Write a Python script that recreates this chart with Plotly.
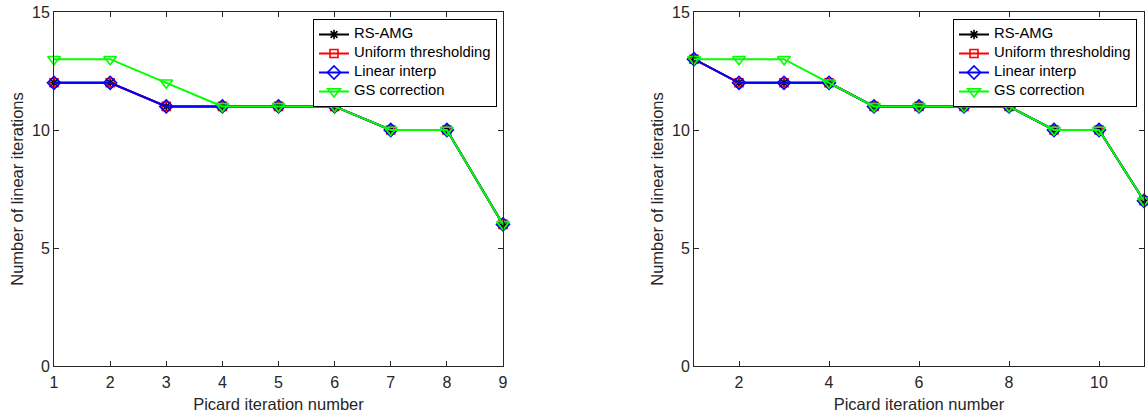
import plotly.graph_objects as go

# ---------------- data ----------------
series_names = ["RS-AMG", "Uniform thresholding", "Linear interp", "GS correction"]

left_x = [1, 2, 3, 4, 5, 6, 7, 8, 9]
left_rs_amg = [12, 12, 11, 11, 11, 11, 10, 10, 6]
left_uniform = [12, 12, 11, 11, 11, 11, 10, 10, 6]
left_linear = [12, 12, 11, 11, 11, 11, 10, 10, 6]
left_gs = [13, 13, 12, 11, 11, 11, 10, 10, 6]

right_x = [1, 2, 3, 4, 5, 6, 7, 8, 9, 10, 11]
right_rs_amg = [13, 12, 12, 12, 11, 11, 11, 11, 10, 10, 7]
right_uniform = [13, 12, 12, 12, 11, 11, 11, 11, 10, 10, 7]
right_linear = [13, 12, 12, 12, 11, 11, 11, 11, 10, 10, 7]
right_gs = [13, 13, 13, 12, 11, 11, 11, 11, 10, 10, 7]

x_title = "Picard iteration number"
y_title = "Number of linear iterations"

# ---------------- styles ----------------
colors = ["#000000", "#FF0000", "#0000FF", "#00FF00"]
symbols = ["asterisk-open", "square-open", "diamond-open", "triangle-down-open"]
msizes = [8, 8, 10, 11]

W, H = 1148, 417
FONT = "Liberation Sans, Arial, Helvetica, sans-serif"
TXT = "#262626"
LEG_TEXT_PX = 14.8

fig = go.Figure()

panels = [
    ("x", "y", "legend", left_x, [left_rs_amg, left_uniform, left_linear, left_gs]),
    ("x2", "y2", "legend2", right_x, [right_rs_amg, right_uniform, right_linear, right_gs]),
]
for xa, ya, lg, xs, ys_list in panels:
    for name, ys, c, s, ms in zip(series_names, ys_list, colors, symbols, msizes):
        fig.add_trace(go.Scatter(
            x=xs, y=ys,
            name=f"<span style='font-size:{LEG_TEXT_PX}px'>{name}</span>",
            mode="lines+markers",
            xaxis=xa, yaxis=ya, legend=lg,
            line=dict(color=c, width=2),
            marker=dict(symbol=s, size=ms, color=c, line=dict(color=c, width=1.6)),
            cliponaxis=False,
        ))

y_dom = [1 - 366 / H, 1 - 12 / H]
axis_common = dict(
    showline=True, linecolor=TXT, linewidth=1, mirror="ticks",
    ticks="inside", ticklen=5, tickwidth=1, tickcolor=TXT,
    showgrid=False, zeroline=False, automargin=False,
    tickfont=dict(family=FONT, size=16, color=TXT),
)
title_font = dict(family=FONT, size=16.5, color=TXT)

legend_common = dict(
    bgcolor="white", bordercolor="#000000", borderwidth=1,
    font=dict(family=FONT, size=10, color="#000000"),
    xanchor="left", yanchor="top", tracegroupgap=0,
    itemwidth=30,
)

fig.update_layout(
    template="none",
    width=W, height=H,
    margin=dict(l=0, r=0, t=0, b=0, pad=0),
    paper_bgcolor="white", plot_bgcolor="white",
    font=dict(family=FONT, color=TXT),
    xaxis=dict(domain=[54 / W, 503 / W], range=[1, 9], dtick=1, tick0=1,
               anchor="y", ticklabelstandoff=2,
               title=dict(text=x_title, font=title_font, standoff=8),
               **axis_common),
    yaxis=dict(domain=y_dom, range=[0, 15], dtick=5, tick0=0, anchor="x",
               title=dict(text=y_title, font=title_font, standoff=4),
               **axis_common),
    xaxis2=dict(domain=[694 / W, 1144 / W], range=[1, 11], dtick=2, tick0=0,
                anchor="y2", ticklabelstandoff=2,
                title=dict(text=x_title, font=title_font, standoff=8),
                **axis_common),
    yaxis2=dict(domain=y_dom, range=[0, 15], dtick=5, tick0=0, anchor="x2",
                title=dict(text=y_title, font=title_font, standoff=4),
                **axis_common),
    legend=dict(x=313 / W, y=1 - 19 / H, **legend_common),
    legend2=dict(x=953 / W, y=1 - 19 / H, **legend_common),
    showlegend=True,
)

fig.write_html(
    "out.html",
    config={"displayModeBar": False},
    post_script="document.body.style.margin='0';document.body.style.overflow='hidden';",
)
